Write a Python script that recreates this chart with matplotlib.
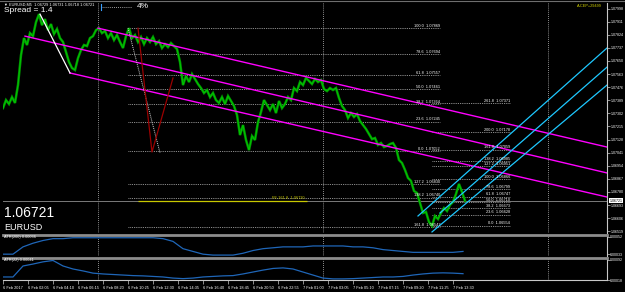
import numpy as np
import matplotlib.pyplot as plt
import matplotlib.transforms as mtransforms

plt.rcParams['font.family'] = ['Liberation Sans', 'DejaVu Sans']

# ---------------- data ----------------
symbol = "EURUSD"
bid = 1.06721
header = "\u25bc EURUSD,M5  1.06729 1.06731 1.06718 1.06721"

first_bar = 3
bar_step = 3
close = [1.07337, 1.07390, 1.07364, 1.07410, 1.07371, 1.07490, 1.07689, 1.07802, 1.07756, 1.07835,
         1.07815, 1.07908, 1.07961, 1.07888, 1.07928, 1.07855, 1.07895, 1.07829, 1.07862, 1.07802,
         1.07776, 1.07709, 1.07643, 1.07603, 1.07590, 1.07669, 1.07722, 1.07756, 1.07749, 1.07802,
         1.07815, 1.07855, 1.07868, 1.07835, 1.07849, 1.07802, 1.07835, 1.07789, 1.07822, 1.07776,
         1.07736, 1.07815, 1.07868, 1.07802, 1.07822, 1.07776, 1.07809, 1.07762, 1.07802, 1.07776,
         1.07809, 1.07762, 1.07782, 1.07736, 1.07762, 1.07742, 1.07769, 1.07749, 1.07729, 1.07643,
         1.07490, 1.07550, 1.07510, 1.07563, 1.07530, 1.07497, 1.07470, 1.07437, 1.07457, 1.07410,
         1.07437, 1.07390, 1.07371, 1.07410, 1.07364, 1.07417, 1.07384, 1.07351, 1.07291, 1.07158,
         1.07224, 1.07125, 1.07058, 1.07151, 1.07125, 1.07244, 1.07311, 1.07390, 1.07357, 1.07324,
         1.07364, 1.07304, 1.07384, 1.07337, 1.07364, 1.07410, 1.07390, 1.07470, 1.07450, 1.07510,
         1.07490, 1.07537, 1.07517, 1.07497, 1.07530, 1.07510, 1.07523, 1.07463, 1.07450, 1.07470,
         1.07457, 1.07470, 1.07404, 1.07351, 1.07324, 1.07271, 1.07304, 1.07278, 1.07297, 1.07251,
         1.07224, 1.07198, 1.07165, 1.07131, 1.07138, 1.07092, 1.07105, 1.07078, 1.07085, 1.07098,
         1.07105, 1.07072, 1.06992, 1.06972, 1.06926, 1.06873, 1.06853, 1.06786, 1.06773, 1.06707,
         1.06640, 1.06647, 1.06580, 1.06554, 1.06620, 1.06600, 1.06640, 1.06673, 1.06653, 1.06693,
         1.06713, 1.06766, 1.06833, 1.06780, 1.06721]

price_min, price_max = 1.06507, 1.08035
price_ticks = [1.07998, 1.07911, 1.07824, 1.07737, 1.07650, 1.07563, 1.07476, 1.07389, 1.07302,
               1.07215, 1.07128, 1.07041, 1.06954, 1.06867, 1.06780, 1.06693, 1.06606, 1.06519]

# trend objects: (bar, price) anchors
magenta_lines = [((98, 1.07868), (607, 1.07078)),
                 ((25, 1.07815), (607, 1.06906)),
                 ((70, 1.07570), (607, 1.06746))]
cyan_lines = [((418, 1.06620), (607, 1.07736)),
              ((440, 1.06640), (607, 1.07609)),
              ((432, 1.06514), (607, 1.07490))]
white_line = ((40, 1.07961), (70, 1.07570))
dotted_line = ((128, 1.07868), (160, 1.07039))
red_line = [(138, 1.07868), (152, 1.07045), (173, 1.07537)]
vlines_bars = [98, 323, 548]

# fibo retracement
fib1_p0, fib1_p100 = 1.07052, 1.07869
fib1_ratio = [1.0, 0.786, 0.618, 0.5, 0.382, 0.236, 0.0, -0.272, -0.382, -0.618]
fib1_text = ["100.0", "78.6", "61.8", "50.0", "38.2", "23.6", "0.0", "127.2", "138.2", "161.8"]
fib1_bars = (128, 440)

# fibo expansion
fe_base, fe_range = 1.06554, 0.00312
fe_ratio = [0.0, 0.236, 0.382, 0.5, 0.618, 0.786, 1.0, 1.272, 1.382, 1.618, 2.0, 2.618]
fe_text = ["0.0", "23.6", "38.2", "50.0", "61.8", "78.6", "100.0", "127.2", "138.2", "161.8", "200.0", "261.8"]
fe_bars = (432, 510)
fe_line_price = 1.06720
fe_line_bars = (138, 307)

# indicators
atr_step = 10
atr200 = [0.00033, 0.00033, 0.00041, 0.00045, 0.00048, 0.00050, 0.00050, 0.00051, 0.00051, 0.00051,
          0.00051, 0.00051, 0.00051, 0.00051, 0.00051, 0.00051, 0.00050, 0.00047, 0.00039, 0.00036,
          0.00033, 0.00032, 0.00032, 0.00032, 0.00034, 0.00037, 0.00039, 0.00040, 0.00041, 0.00041,
          0.00041, 0.00042, 0.00042, 0.00042, 0.00042, 0.00041, 0.00041, 0.00040, 0.00038, 0.00037,
          0.00036, 0.00035, 0.00035, 0.00035, 0.00035, 0.00035, 0.00036]
atr22 = [0.00029, 0.00029, 0.00069, 0.00076, 0.00084, 0.00089, 0.00069, 0.00058, 0.00051, 0.00043,
         0.00040, 0.00038, 0.00036, 0.00034, 0.00033, 0.00031, 0.00029, 0.00025, 0.00023, 0.00025,
         0.00029, 0.00031, 0.00033, 0.00034, 0.00040, 0.00047, 0.00054, 0.00060, 0.00062, 0.00058,
         0.00047, 0.00036, 0.00025, 0.00022, 0.00022, 0.00023, 0.00025, 0.00027, 0.00029, 0.00029,
         0.00031, 0.00036, 0.00040, 0.00043, 0.00044, 0.00043, 0.00041]

time_tick_step = 25
time_labels = ["6 Feb 2017", "6 Feb 02:05", "6 Feb 04:10", "6 Feb 06:15", "6 Feb 08:20", "6 Feb 10:25",
               "6 Feb 12:30", "6 Feb 14:35", "6 Feb 16:40", "6 Feb 18:45", "6 Feb 20:50", "6 Feb 22:55",
               "7 Feb 01:00", "7 Feb 03:05", "7 Feb 05:10", "7 Feb 07:15", "7 Feb 09:20", "7 Feb 11:25",
               "7 Feb 13:30"]

# ---------------- figure ----------------
W, H = 625, 292
fig = plt.figure(figsize=(W / 100, H / 100), dpi=100, facecolor='black')


def box(top, bottom):
    return [3 / W, 1 - bottom / H, 604 / W, (bottom - top) / H]


ax = fig.add_axes(box(3, 233))
ax1 = fig.add_axes(box(235, 256), sharex=ax)
ax2 = fig.add_axes(box(258, 280), sharex=ax)

for a in (ax, ax1, ax2):
    a.set_facecolor('black')
    for s in ('left', 'bottom', 'top'):
        a.spines[s].set_visible(False)
    a.spines['right'].set_color('#c8c8c8')
    a.spines['right'].set_linewidth(0.8)
    a.yaxis.tick_right()
    a.tick_params(axis='y', colors='#c8c8c8', labelcolor='white', labelsize=2.6,
                  length=1.8, width=0.5, pad=0.6)
    a.tick_params(axis='x', bottom=False, labelbottom=False)
    for vb in vlines_bars:
        a.axvline(vb, color='#bdbdbd', lw=0.6, ls=(0, (1, 1.5)))

for a in (ax1, ax2):
    a.spines['top'].set_visible(True)
    a.spines['top'].set_color('#8c8c8c')
    a.spines['top'].set_linewidth(2)

ax.set_xlim(3, 607)
ax.set_ylim(price_min, price_max)
ax.set_yticks(price_ticks)
ax.set_yticklabels([f"{p:.5f}" for p in price_ticks])

# fib retracement
fib1_prices = [fib1_p0 + r * (fib1_p100 - fib1_p0) for r in fib1_ratio]
ax.hlines(fib1_prices, *fib1_bars, colors='#bdbdbd', lw=0.6, linestyles=(0, (1, 1.2)))
for lab, p in zip(fib1_text, fib1_prices):
    ax.text(fib1_bars[1], p + 0.00003, f"{lab}  {p:.5f}", color='white', fontsize=2.8,
            ha='right', va='bottom')

# fib expansion
fe_prices = [fe_base + r * fe_range for r in fe_ratio]
ax.hlines(fe_prices, *fe_bars, colors='#bdbdbd', lw=0.6, linestyles=(0, (1, 1.2)))
for lab, p in zip(fe_text, fe_prices):
    ax.text(fe_bars[1], p + 0.00003, f"{lab}  {p:.5f}", color='white', fontsize=2.8,
            ha='right', va='bottom')

# bid line
ax.axhline(bid, color='#7a7a7a', lw=0.7)
ax.hlines(fe_line_price, *fe_line_bars, colors='#c8c800', lw=0.9)
ax.text(fe_line_bars[1] - 2, fe_line_price + 0.00003, f"FE 161.8  {fe_line_price:.5f}",
        color='#c8c800', fontsize=2.8, ha='right', va='bottom')

# price
bars = first_bar + bar_step * np.arange(len(close))
ax.plot(bars, close, color='#009600', lw=1.8, solid_joinstyle='miter')
ax.plot(bars, close, color='#00d200', lw=0.5)

# trend lines
for (b0, p0), (b1, p1) in magenta_lines:
    ax.plot([b0, b1], [p0, p1], color='#ff00ff', lw=1.0)
for (b0, p0), (b1, p1) in cyan_lines:
    ax.plot([b0, b1], [p0, p1], color='#1ec8ff', lw=0.9)
ax.plot(*zip(*white_line), color='white', lw=0.9)
ax.plot(*zip(*dotted_line), color='#d0d0d0', lw=0.7, ls=(0, (1, 1)))
ax.plot(*zip(*red_line), color='#9b0000', lw=0.9)

# current price box on the axis
tr = mtransforms.blended_transform_factory(ax.transAxes, ax.transData)
ax.text(1.004, bid, f"{bid:.5f}", transform=tr, fontsize=2.6, color='black', va='center',
        ha='left', bbox=dict(boxstyle='square,pad=0.15', fc='white', ec='none'))

# ATR panels
atr_bars = first_bar + atr_step * np.arange(len(atr200))
ax1.plot(atr_bars, atr200, color='#1f66b8', lw=0.9)
ax1.set_ylim(0.00031, 0.00054)
ax1.set_yticks([0.00052, 0.00033])
ax1.set_yticklabels(["0.00052", "0.00033"])
ax1.text(4, 0.00052, f"ATR(200) {atr200[-1]:.5f}", fontsize=2.8, color='white', va='center')

ax2.plot(atr_bars, atr22, color='#1f66b8', lw=0.9)
ax2.set_ylim(0.00018, 0.00098)
ax2.set_yticks([0.00092, 0.00018])
ax2.set_yticklabels(["0.00092", "0.00018"])
ax2.text(4, 0.00090, f"ATR(22) {atr22[-1]:.5f}", fontsize=2.8, color='white', va='center')

ax2.spines['bottom'].set_visible(True)
ax2.spines['bottom'].set_color('#c8c8c8')
ax2.spines['bottom'].set_linewidth(0.8)
tpos = first_bar + time_tick_step * np.arange(len(time_labels))
ax2.set_xticks(tpos)
ax2.set_xticklabels(time_labels)
ax2.tick_params(axis='x', bottom=True, labelbottom=True, colors='#c8c8c8', labelcolor='white',
                labelsize=2.8, length=3, width=0.5, pad=1)
for t in ax2.get_xticklabels():
    t.set_ha('left')
ax2.set_xlim(3, 607)

# chart texts and small indicator widget
fig.text(4 / W, 1 - 5 / H, header, color='white', fontsize=2.8, va='center')
fig.text(4 / W, 1 - 11 / H, "Spread = 1.4", color='white', fontsize=6, va='center')
fig.add_artist(plt.Line2D([101 / W, 131 / W], [1 - 7 / H, 1 - 7 / H], color='#d0d0d0',
                          lw=0.6, ls=(0, (1, 1.5))))
fig.add_artist(plt.Line2D([101 / W, 101 / W], [1 - 4 / H, 1 - 10 / H], color='#3aa0ff', lw=0.8))
fig.text(137 / W, 1 - 7 / H, "4%", color='white', fontsize=6, va='center')
fig.text(577 / W, 1 - 6 / H, "A-CEP+29499", color='#d2d200', fontsize=2.8, va='center')
fig.text(4 / W, 1 - 213 / H, f"{bid:.5f}", color='white', fontsize=10, va='center')
fig.text(4 / W, 1 - 228 / H, symbol, color='white', fontsize=6.5, va='center')
fig.add_artist(plt.Line2D([0, 1], [1 - 1 / H, 1 - 1 / H], color='#6e6e6e', lw=0.8))

plt.savefig("out.png", dpi=100, facecolor='black')
